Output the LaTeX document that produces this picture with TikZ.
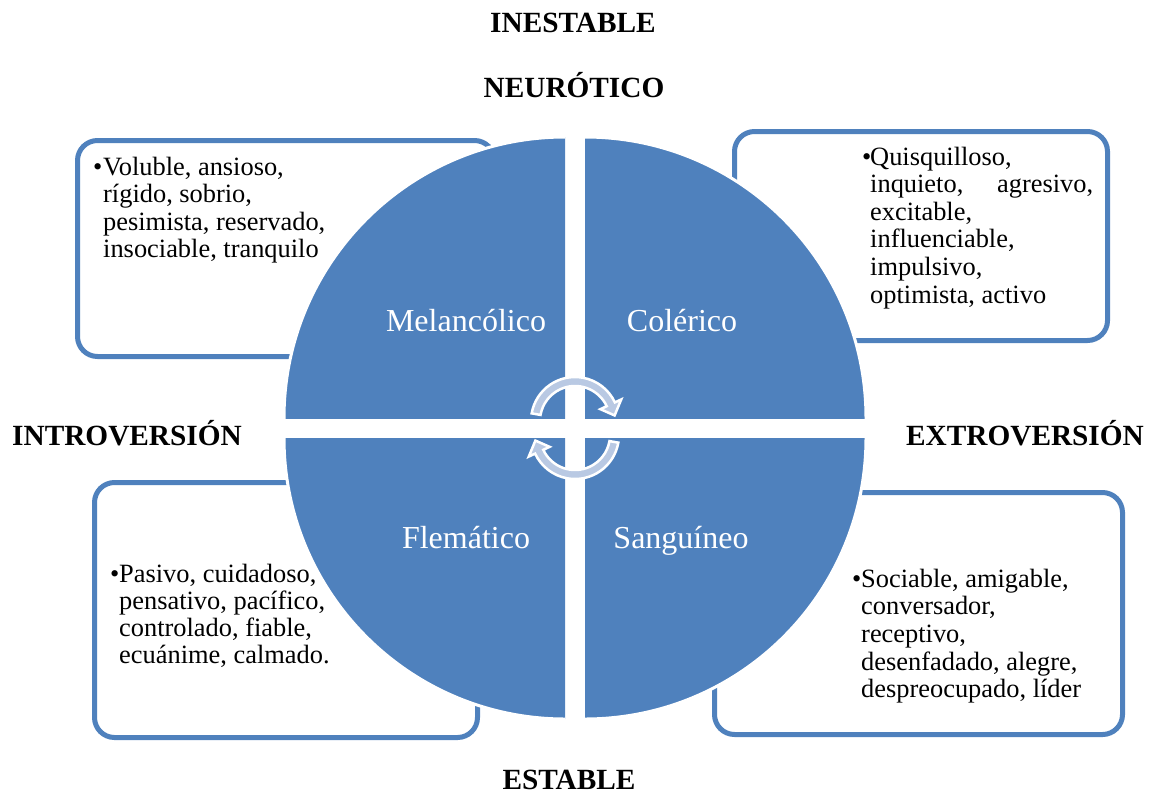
\documentclass[tikz,border=0pt]{standalone}
\usepackage{fontspec}
\setmainfont{Liberation Serif}
\definecolor{qblue}{HTML}{4F81BD}
\definecolor{arrowfill}{HTML}{B9C9E3}
\begin{document}
\begin{tikzpicture}[x=1pt,y=-1pt,
  box/.style={draw=qblue, line width=5pt, rounded corners=20pt, fill=white},
  quad/.style={fill=qblue, draw=white, line width=3pt},
  qlabel/.style={text=white, font=\fontsize{32}{36}\selectfont, inner sep=0pt, anchor=base},
  head/.style={font=\bfseries\fontsize{29.3}{33}\selectfont, inner sep=0pt, anchor=base},
  body/.style={inner sep=0pt, anchor=base west},
  circarrow/.style={fill=arrowfill, draw=white, line width=2.5pt, line join=miter}
]
\useasboundingbox (0,0) rectangle (1151,796);

% boxes
\draw[box] (77.5,140.5) rectangle (494.5,356.5);
\draw[box] (734.5,131.5) rectangle (1107.5,340.5);
\draw[box] (94.5,482.5) rectangle (477.5,737.5);
\draw[box] (714.5,492.5) rectangle (1122.5,734.5);

% quadrants
\begin{scope}
  \clip (565,418) rectangle (270,120);
  \filldraw[quad] (565,418) circle[radius=281];
\end{scope}
\begin{scope}
  \clip (585,418) rectangle (880,120);
  \filldraw[quad] (585,418) circle[radius=281];
\end{scope}
\begin{scope}
  \clip (565,438) rectangle (270,735);
  \filldraw[quad] (565,438) circle[radius=281];
\end{scope}
\begin{scope}
  \clip (585,438) rectangle (880,735);
  \filldraw[quad] (585,438) circle[radius=281];
\end{scope}

% quadrant labels
\node[qlabel] (mel) at (466,331) {Melancólico};
\node[qlabel] (col) at (682,331) {Colérico};
\node[qlabel] (fle) at (466,548) {Flemático};
\node[qlabel] (san) at (681,548) {Sanguíneo};

% circular arrows
\begin{scope}[shift={(575,421)}]
  \filldraw[circarrow] (190:44) arc[start angle=190, end angle=335, radius=44]
    -- (335:51) -- (352:40) -- (335:28) -- (335:35)
    arc[start angle=335, end angle=190, radius=35] -- cycle;
\end{scope}
\begin{scope}[shift={(575,435)}]
  \filldraw[circarrow] (10:44) arc[start angle=10, end angle=155, radius=44]
    -- (155:51) -- (172:40) -- (155:28) -- (155:35)
    arc[start angle=155, end angle=10, radius=35] -- cycle;
\end{scope}

% box texts
\node[body] (tltext) at (93,175) {\parbox[t]{260pt}{\fontsize{26.4}{27.6}\selectfont
  \hangindent=10pt\hangafter=1\makebox[10pt][l]{•}Voluble, ansioso,\\
  rígido, sobrio,\\
  pesimista, reservado,\\
  insociable, tranquilo}};
\node[body] (trtext) at (862,165) {\parbox[t]{231pt}{\fontsize{26.4}{27.6}\selectfont
  \hangindent=8pt\hangafter=1\makebox[8pt][l]{•}Quisquilloso,\\
  inquieto,\hfill agresivo,\\
  excitable,\\
  influenciable,\\
  impulsivo,\\
  optimista, activo}};
\node[body] (bltext) at (110,582) {\parbox[t]{260pt}{\fontsize{26.4}{27.2}\selectfont
  \hangindent=9pt\hangafter=1\makebox[9pt][l]{•}Pasivo, cuidadoso,\\
  pensativo, pacífico,\\
  controlado, fiable,\\
  ecuánime, calmado.}};
\node[body] (brtext) at (852,587) {\parbox[t]{260pt}{\fontsize{26.4}{27.7}\selectfont
  \hangindent=9pt\hangafter=1\makebox[9pt][l]{•}Sociable, amigable,\\
  conversador,\\
  receptivo,\\
  desenfadado, alegre,\\
  despreocupado, líder}};

% headings
\node[head] (inest) at (573,32) {INESTABLE};
\node[head] (neur) at (574,97) {NEURÓTICO};
\node[head] (intro) at (127,445) {INTROVERSIÓN};
\node[head] (extro) at (1025,445) {EXTROVERSIÓN};
\node[head] (estab) at (569,789) {ESTABLE};
\end{tikzpicture}
\end{document}
